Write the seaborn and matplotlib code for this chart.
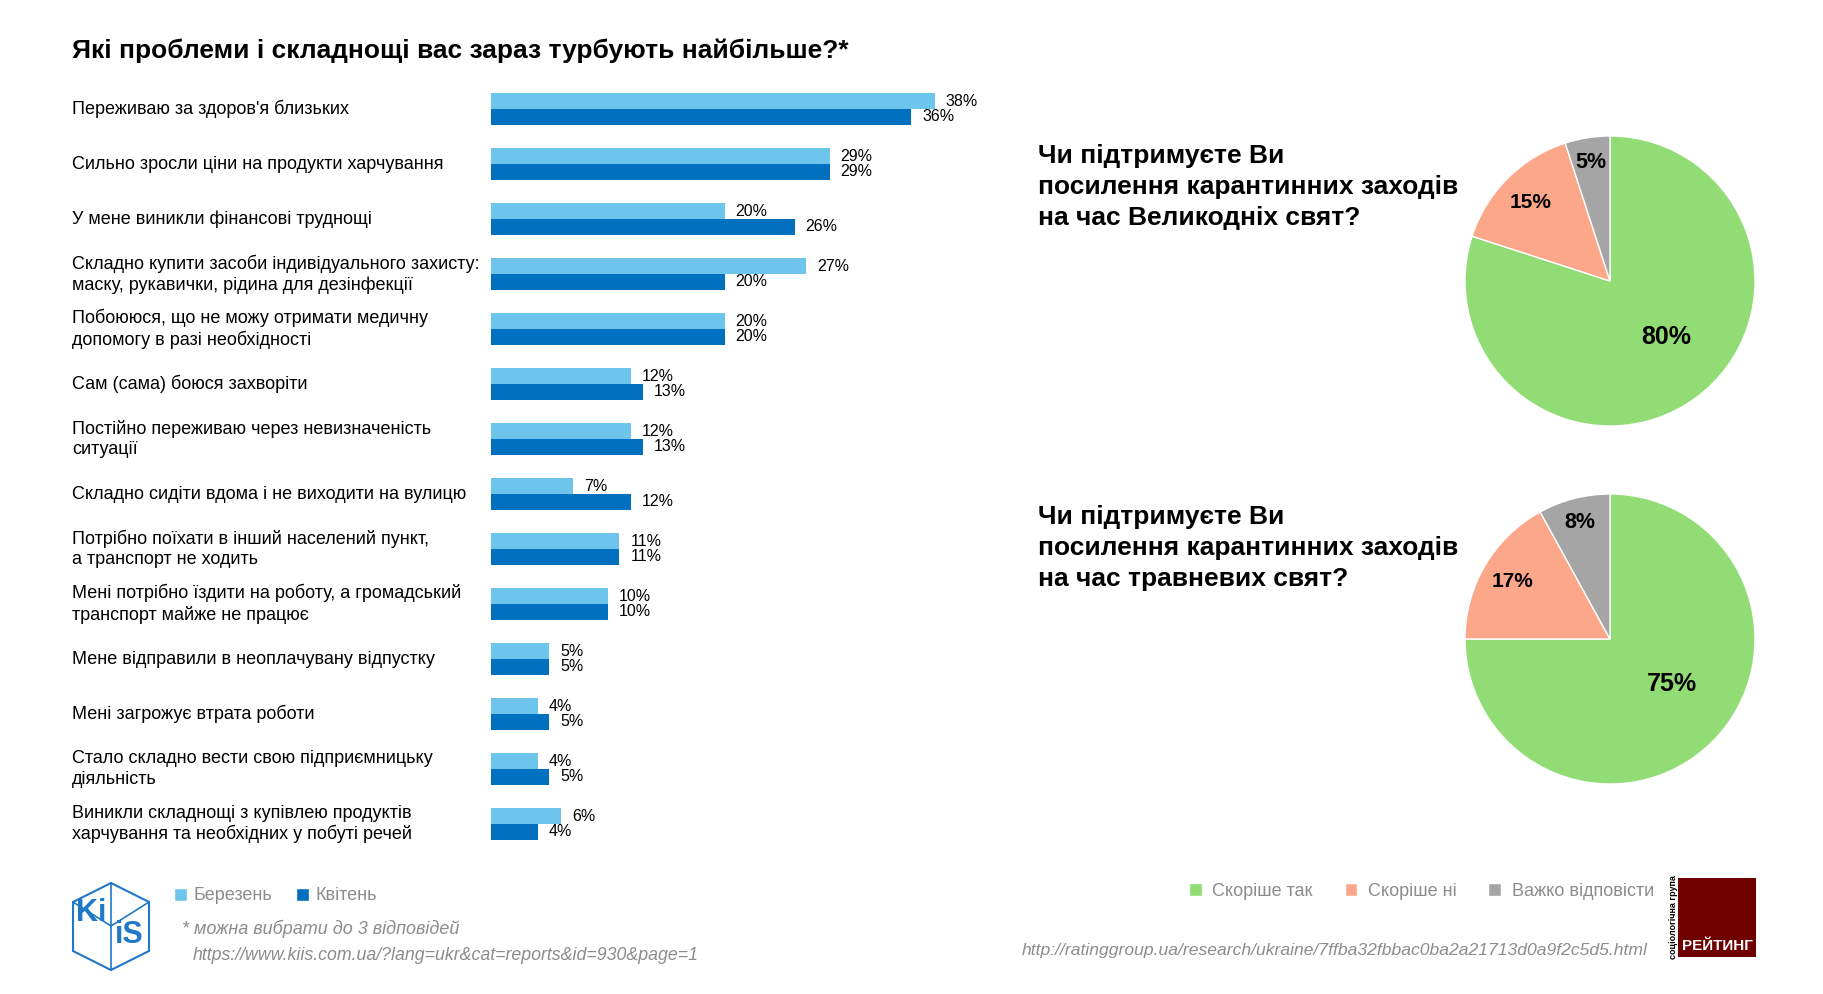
import matplotlib
matplotlib.use('Agg')
import matplotlib.pyplot as plt
import matplotlib.transforms as mtransforms
from matplotlib.patches import Patch, Rectangle, Polygon
import numpy as np
import pandas as pd
import seaborn as sns

# --- data ---
problems = [
    "Переживаю за здоров'я близьких",
    "Сильно зросли ціни на продукти харчування",
    "У мене виникли фінансові труднощі",
    "Складно купити засоби індивідуального захисту:\nмаску, рукавички, рідина для дезінфекції",
    "Побоююся, що не можу отримати медичну\nдопомогу в разі необхідності",
    "Сам (сама) боюся захворіти",
    "Постійно переживаю через невизначеність\nситуації",
    "Складно сидіти вдома і не виходити на вулицю",
    "Потрібно поїхати в інший населений пункт,\nа транспорт не ходить",
    "Мені потрібно їздити на роботу, а громадський\nтранспорт майже не працює",
    "Мене відправили в неоплачувану відпустку",
    "Мені загрожує втрата роботи",
    "Стало складно вести свою підприємницьку\nдіяльність",
    "Виникли складнощі з купівлею продуктів\nхарчування та необхідних у побуті речей",
]
march = [38, 29, 20, 27, 20, 12, 12, 7, 11, 10, 5, 4, 4, 6]
april = [36, 29, 26, 20, 20, 13, 13, 12, 11, 10, 5, 5, 5, 4]
months = ['Березень', 'Квітень']

answers = ['Скоріше так', 'Скоріше ні', 'Важко відповісти']
easter = [80, 15, 5]
may_holidays = [75, 17, 8]

main_title = 'Які проблеми і складнощі вас зараз турбують найбільше?*'
pie_titles = [
    'Чи підтримуєте Ви\nпосилення карантинних заходів\nна час Великодніх свят?',
    'Чи підтримуєте Ви\nпосилення карантинних заходів\nна час травневих свят?',
]
footnote = '* можна вибрати до 3 відповідей'
kiis_url = 'https://www.kiis.com.ua/?lang=ukr&cat=reports&id=930&page=1'
rating_url = 'http://ratinggroup.ua/research/ukraine/7ffba32fbbac0ba2a21713d0a9f2c5d5.html'

# --- style ---
light_blue = '#6DC5EB'
dark_blue = '#0070BF'
pie_colors = ['#92DC75', '#FCA68A', '#A5A5A5']
grey_text = '#8c8c8c'

W, H = 1824, 994
sns.set_style('white')
plt.rcParams['font.family'] = ['Liberation Sans', 'DejaVu Sans']


def box(left, top, width, height):
    # pixel box (from top-left) -> figure fraction
    return [left / W, 1 - (top + height) / H, width / W, height / H]


fig = plt.figure(figsize=(W / 100, H / 100), dpi=100)

# --- bars ---
n = len(problems)
df = pd.DataFrame({
    'problem': problems * 2,
    'value': march + april,
    'month': [months[0]] * n + [months[1]] * n,
})

ax = fig.add_axes(box(491, 81.5, 467, 770))
sns.barplot(data=df, y='problem', x='value', hue='month', hue_order=months,
            order=problems, palette=[light_blue, dark_blue], orient='h',
            width=0.58, saturation=1, errorbar=None, linewidth=0,
            legend=False, ax=ax)
ax.set_xlim(0, 40)
ax.set_ylim(n - 0.5, -0.5)
ax.set_axis_off()

for cont in ax.containers:
    ax.bar_label(cont, fmt='%d%%', padding=8, fontsize=11.5, color='black')

trans = mtransforms.blended_transform_factory(fig.transFigure, ax.transData)
for i, lab in enumerate(problems):
    ax.text(72 / W, i, lab, transform=trans, ha='left', va='center',
            fontsize=13, linespacing=1.25, color='black')

fig.text(72 / W, 1 - 58 / H, main_title, ha='left', va='baseline',
         fontsize=19, fontweight='bold', color='black')

# --- pies ---
label_dist = [[0.55, 0.77, 0.83], [0.53, 0.78, 0.83]]
label_turn = [9, 0, 0]   # big-slice label sits a bit above its mid-angle
label_size = [18, 15, 15.5]
for values, title, cy, ty, dists in zip([easter, may_holidays], pie_titles,
                                        [281, 639], [187, 548], label_dist):
    pax = fig.add_axes(box(1610 - 145, cy - 145, 290, 290))
    wedges, _ = pax.pie(values, colors=pie_colors, startangle=90,
                        counterclock=False,
                        wedgeprops=dict(edgecolor='white', linewidth=1))
    for w, v, d, t, fs in zip(wedges, values, dists, label_turn, label_size):
        ang = np.deg2rad((w.theta1 + w.theta2) / 2 + t)
        pax.text(d * np.cos(ang), d * np.sin(ang), f'{v}%', ha='center',
                 va='center', fontsize=fs, fontweight='bold', color='black')
    pax.set_xlim(-1, 1)
    pax.set_ylim(-1, 1)
    fig.text(1038 / W, 1 - ty / H, title, ha='left', va='center',
             fontsize=19, fontweight='bold', color='black', linespacing=1.37)

# --- legends ---
fig.legend(handles=[Patch(facecolor=c) for c in [light_blue, dark_blue]],
           labels=months, loc='center left', bbox_to_anchor=(174 / W, 1 - 896 / H),
           ncol=2, frameon=False, fontsize=13, handlelength=0.7,
           handleheight=0.7, handletextpad=0.4, columnspacing=1.3,
           borderpad=0, borderaxespad=0, labelcolor=grey_text)
fig.legend(handles=[Patch(facecolor=c) for c in pie_colors],
           labels=answers, loc='center left', bbox_to_anchor=(1189 / W, 1 - 891 / H),
           ncol=3, frameon=False, fontsize=13, handlelength=0.7,
           handleheight=0.7, handletextpad=0.6, columnspacing=1.75,
           borderpad=0, borderaxespad=0, labelcolor=grey_text)

fig.text(182 / W, 1 - 929 / H, footnote, style='italic', color=grey_text,
         fontsize=13, ha='left', va='center')
fig.text(193 / W, 1 - 955 / H, kiis_url, style='italic', color=grey_text,
         fontsize=12.8, ha='left', va='center')
fig.text(1022 / W, 1 - 951 / H, rating_url, style='italic', color=grey_text,
         fontsize=12.6, ha='left', va='center')

# --- logos (drawn in pixel space) ---
lax = fig.add_axes([0, 0, 1, 1], zorder=-1)
lax.set_xlim(0, W)
lax.set_ylim(H, 0)
lax.set_axis_off()

kiis_blue = '#1F78C8'
hexagon = [(111, 883), (149, 902), (149, 951), (111, 970), (73, 951), (73, 902)]
lax.add_patch(Polygon(hexagon, closed=True, fill=False, edgecolor=kiis_blue, linewidth=1.5))
for a, b in [((73, 902), (111, 926)), ((149, 902), (111, 926)), ((111, 926), (111, 970)),
             ((111, 883), (111, 926))]:
    lax.plot([a[0], b[0]], [a[1], b[1]], color=kiis_blue, linewidth=1.2)
lax.text(91, 913, 'Ki', color=kiis_blue, fontsize=22, fontweight='bold',
         ha='center', va='center')
lax.text(129, 935, 'iS', color=kiis_blue, fontsize=22, fontweight='bold',
         ha='center', va='center')

lax.add_patch(Rectangle((1678, 878), 78, 79, facecolor='#6E0000', edgecolor='none'))
lax.text(1717, 946, 'РЕЙТИНГ', color='white', fontsize=11, fontweight='bold',
         ha='center', va='center')
lax.text(1674, 917, 'соціологічна група', color='black', fontsize=6.5,
         fontweight='bold', rotation=90, ha='center', va='center')

fig.savefig('out.png', dpi=100, facecolor='white')
